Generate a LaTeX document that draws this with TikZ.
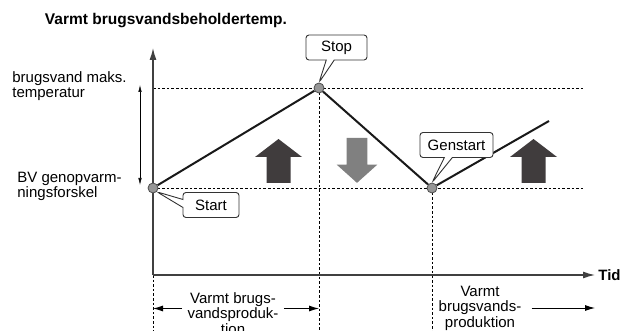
\documentclass[tikz,border=0pt]{standalone}
\usepackage{fontspec}
\setmainfont{Liberation Sans}
\usetikzlibrary{arrows.meta,shapes.callouts}
\definecolor{heatdark}{RGB}{64,60,61}
\definecolor{cooldown}{RGB}{128,128,128}
\definecolor{dotgray}{RGB}{150,150,150}
\tikzset{every picture/.style={line width=.8pt}}

\begin{document}
\begin{tikzpicture}[x=1pt,y=-1pt,>=Latex,
  every node/.style={font=\fontsize{15}{14.8}\selectfont,inner sep=0pt},
  guide/.style={black,line width=.9pt,dash pattern=on 2.6pt off 2pt},
  axis/.style={black!75,line width=1.3pt,-{Latex[length=12pt,width=7pt]}},
  curve/.style={black!90,line width=2pt},
  span/.style={black,line width=.9pt,-{Latex[length=10pt,width=6pt]}},
  period/.style={align=center,font=\fontsize{15}{15.5}\selectfont},
  marker/.style={circle,draw=black!70,fill=dotgray,line width=.8pt,minimum size=10pt},
  bubble/.style={rectangle callout,draw=black!80,fill=white,rounded corners=3pt,
                 line width=.9pt,minimum height=25pt,callout pointer width=8pt},
  heatup/.pic={\fill (-12,0) -- (-12,-26) -- (-23.5,-26) -- (0,-44)
                 -- (23.5,-26) -- (12,-26) -- (12,0) -- cycle;}]
  \useasboundingbox (0,0) rectangle (621,331);

  % Limits and phase boundaries.
  \draw[guide] (153,88) -- (583,88);
  \draw[guide] (153,188) -- (583,188);
  \draw[guide] (153,275) -- (153,331);
  \draw[guide] (319,88) -- (319,331);
  \draw[guide] (432,188) -- (432,331);

  % Axes.
  \coordinate (origin) at (153,275);
  \coordinate (ytop) at (153,48);
  \coordinate (xend) at (595,275);
  \draw[axis] (origin) -- (ytop);
  \draw[axis] (origin) -- (xend);
  \node[font=\bfseries\fontsize{15}{15}\selectfont,anchor=west] (tid)
    at ([xshift=3pt]xend) {Tid};
  \node[font=\bfseries\fontsize{15.5}{15}\selectfont] (title) at (166,21)
    {Varmt brugsvandsbeholdertemp.};

  % Temperature band on the left.
  \draw[line width=.6pt,{Latex[length=7pt,width=3.5pt]}-{Latex[length=7pt,width=3.5pt]}]
    (140,185) -- (140,85);
  \node[align=left,anchor=west] (maxlbl) at (12,86)
    {brugsvand maks.\\temperatur};
  \node[align=left,anchor=west] (difflbl) at (17,186)
    {BV genopvarm-\\ningsforskel};

  % Heating and cooling arrows.
  \pic[color=heatdark] at (278.5,183) {heatup};
  \pic[color=heatdark] at (533.5,183) {heatup};
  \pic[color=cooldown,xscale=.87,yscale=-1.02] at (357,138) {heatup};

  % Tank temperature over time.
  \node[marker] (pstart) at (153,188) {};
  \node[marker] (pstop) at (319,88) {};
  \node[marker] (pgen) at (432,188) {};
  \coordinate (pend) at (549,121);
  \draw[curve] (pstart) -- (pstop) -- (pgen) -- (pend);

  \node[bubble,minimum width=61pt,callout absolute pointer={(pstop.north)}]
    (stopbox) at (336.5,47.5) {Stop};
  \node[bubble,minimum width=56pt,callout absolute pointer={(pstart.south east)}]
    (startbox) at (211,205) {Start};
  \node[bubble,minimum width=73pt,callout absolute pointer={(pgen.north)}]
    (genbox) at (456.5,145) {Genstart};

  % Production periods.
  \node[period] (prod1) at (233,313.5) {Varmt brugs-\\vandsproduk-\\tion};
  \draw[span] ([xshift=-5pt,yshift=5pt]prod1.west) -- ([yshift=5pt]prod1.west -| pstart);
  \draw[span] ([xshift=5pt,yshift=5pt]prod1.east) -- ([yshift=5pt]prod1.east -| pstop);
  \node[period] (prod2) at (480,308) {Varmt\\brugsvands-\\produktion};
  \draw[span] ([xshift=10pt]prod2.east) -- (prod2.east -| xend);
\end{tikzpicture}
\end{document}
